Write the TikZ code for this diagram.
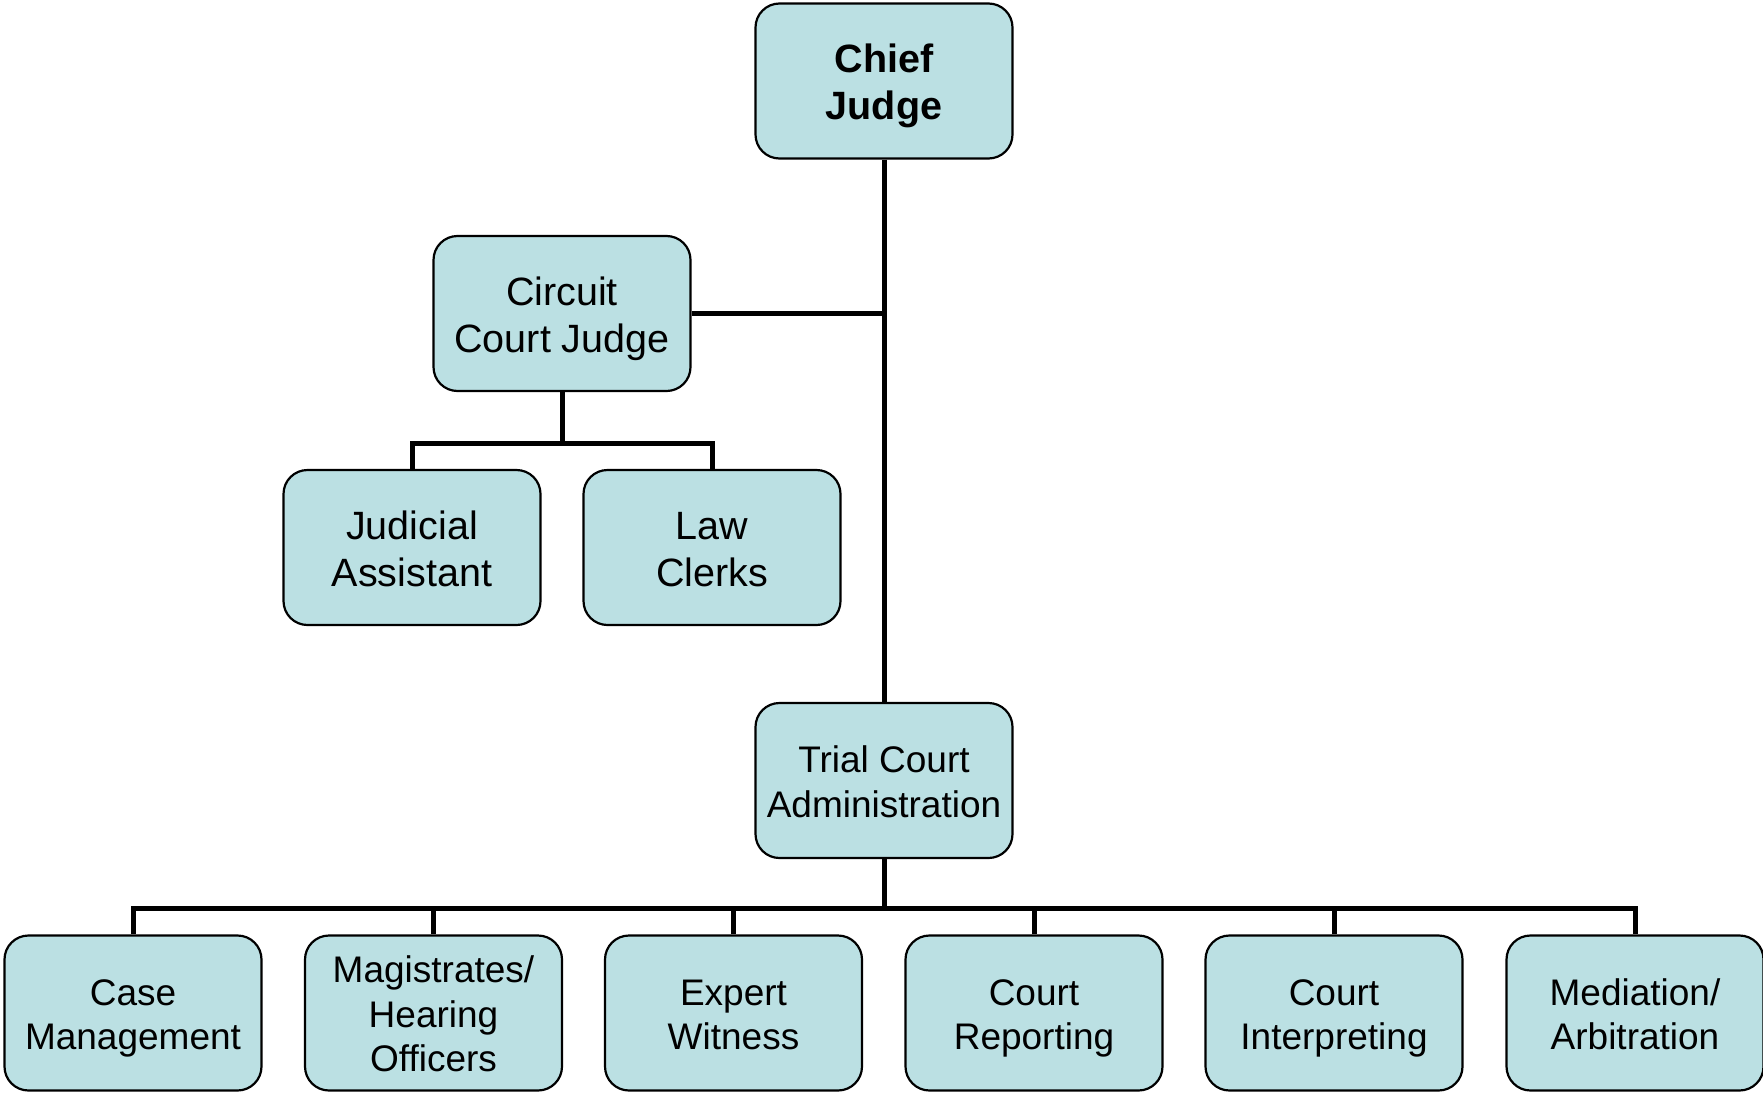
\documentclass[tikz,border=0pt]{standalone}
\usepackage{fontspec}
\setmainfont{Liberation Sans}
\definecolor{boxfill}{HTML}{BBE0E3}
\newcommand\stA{\vrule width0pt height 38.5pt depth 8.5pt\relax}
\newcommand\stB{\vrule width0pt height 36.5pt depth 8pt\relax}
\begin{document}
\begin{tikzpicture}[x=1pt,y=-1pt,
  orgbox/.style={draw=black, line width=2.2pt, fill=boxfill, rounded corners=24pt,
    minimum width=257pt, minimum height=155pt, inner sep=0pt, align=center},
  bigtext/.style={font=\fontsize{39.5}{47}\selectfont},
  smalltext/.style={font=\fontsize{37}{44.5}\selectfont},
  conn/.style={line width=5pt, line join=miter}]
\useasboundingbox (0,0) rectangle (1763,1092);
\node[orgbox, font=\fontsize{39.5}{47}\selectfont\bfseries] (chief) at (884,81) {\stA Chief\\\stA Judge};
\node[orgbox, bigtext] (ccj) at (562,313.5) {\stA Circuit\\\stA Court Judge};
\node[orgbox, bigtext] (ja) at (412,547.5) {\stA Judicial\\\stA Assistant};
\node[orgbox, bigtext] (lc) at (712,547.5) {\stA Law\\\stA Clerks};
\node[orgbox, smalltext] (tca) at (884,780.5) {\stB Trial Court\\\stB Administration};
\node[orgbox, smalltext] (cm) at (133,1013) {\stB Case\\\stB Management};
\node[orgbox, smalltext] (mag) at (433.5,1013) {\stB Magistrates/\\\stB Hearing\\\stB Officers};
\node[orgbox, smalltext] (ew) at (733.5,1013) {\stB Expert\\\stB Witness};
\node[orgbox, smalltext] (cr) at (1034,1013) {\stB Court\\\stB Reporting};
\node[orgbox, smalltext] (ci) at (1334,1013) {\stB Court\\\stB Interpreting};
\node[orgbox, smalltext] (ma) at (1635,1013) {\stB Mediation/\\\stB Arbitration};
\coordinate (bus1) at (562,443);
\coordinate (bus2) at (884,908.5);
\draw[conn] (chief.south) -- (tca.north);
\draw[conn] (ccj.east) -- (ccj.east -| chief.south);
\draw[conn] (ccj.south) -- (bus1);
\draw[conn] (ja.north) |- (bus1) -| (lc.north);
\draw[conn] (tca.south) -- (bus2);
\draw[conn] (cm.north) |- (bus2) -| (ma.north);
\draw[conn] (mag.north) -- (mag.north |- bus2);
\draw[conn] (ew.north) -- (ew.north |- bus2);
\draw[conn] (cr.north) -- (cr.north |- bus2);
\draw[conn] (ci.north) -- (ci.north |- bus2);
\end{tikzpicture}
\end{document}
